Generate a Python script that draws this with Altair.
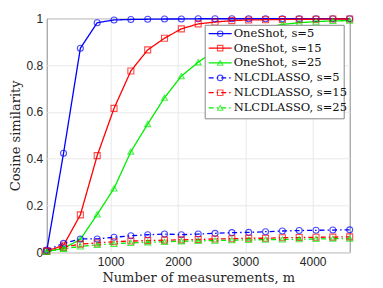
import altair as alt
import pandas as pd

m_values = [50, 300, 550, 800, 1050, 1300, 1550, 1800, 2050, 2300, 2550, 2800,
            3050, 3300, 3550, 3800, 4050, 4300, 4550]

oneshot_s5 = [0.005, 0.423, 0.872, 0.981, 0.993, 0.995, 0.996, 0.997, 0.997, 0.998, 0.998,
              0.998, 0.998, 0.998, 0.998, 0.998, 0.998, 0.998, 0.998]
oneshot_s15 = [0.005, 0.03, 0.16, 0.413, 0.615, 0.775, 0.865, 0.915, 0.955, 0.976, 0.984,
               0.99, 0.993, 0.994, 0.995, 0.996, 0.996, 0.997, 0.997]
oneshot_s25 = [0.003, 0.017, 0.055, 0.162, 0.273, 0.43, 0.548, 0.661, 0.753, 0.812, 0.862,
               0.905, 0.935, 0.958, 0.974, 0.981, 0.986, 0.989, 0.99]
nlcd_s5 = [0.01, 0.038, 0.057, 0.057, 0.064, 0.071, 0.075, 0.078, 0.075, 0.078, 0.081,
           0.084, 0.085, 0.088, 0.091, 0.093, 0.094, 0.095, 0.096]
nlcd_s15 = [0.005, 0.022, 0.035, 0.04, 0.045, 0.048, 0.05, 0.052, 0.053, 0.055, 0.057,
            0.058, 0.06, 0.06, 0.062, 0.063, 0.064, 0.065, 0.066]
nlcd_s25 = [0.003, 0.015, 0.025, 0.032, 0.036, 0.04, 0.043, 0.045, 0.047, 0.049, 0.05,
            0.052, 0.053, 0.054, 0.055, 0.056, 0.057, 0.058, 0.058]

series_names = ["OneShot, s=5", "OneShot, s=15", "OneShot, s=25",
                "NLCDLASSO, s=5", "NLCDLASSO, s=15", "NLCDLASSO, s=25"]
series_values = [oneshot_s5, oneshot_s15, oneshot_s25, nlcd_s5, nlcd_s15, nlcd_s25]
colors = ["#0000ff", "#ff0000", "#00ee00", "#0000ff", "#ff0000", "#00ee00"]
shapes = ["circle", "square", "triangle-up", "circle", "square", "triangle-up"]
dashes = [[1, 0], [1, 0], [1, 0], [5, 3, 1.5, 3], [5, 3, 1.5, 3], [5, 3, 1.5, 3]]

rows = []
for name, vals in zip(series_names, series_values):
    for m, v in zip(m_values, vals):
        rows.append({"m": m, "sim": v, "series": name})
df = pd.DataFrame(rows)

W, H = 303, 234
serif = "DejaVu Serif"
sans = "Liberation Sans"

x_enc = alt.X("m:Q", scale=alt.Scale(domain=[50, 4550], nice=False, zero=False),
              axis=alt.Axis(values=[1000, 2000, 3000, 4000], format="d",
                            title="Number of measurements, m"))
y_enc = alt.Y("sim:Q", scale=alt.Scale(domain=[0, 1], nice=False),
              axis=alt.Axis(values=[0, 0.2, 0.4, 0.6, 0.8, 1], format="~g",
                            title="Cosine similarity"))
color_enc = alt.Color("series:N", scale=alt.Scale(domain=series_names, range=colors), legend=None)

lines = alt.Chart(df).mark_line(strokeWidth=1.3).encode(
    x=x_enc, y=y_enc, color=color_enc,
    strokeDash=alt.StrokeDash("series:N", scale=alt.Scale(domain=series_names, range=dashes), legend=None),
)
points = alt.Chart(df).mark_point(filled=False, size=36, strokeWidth=1.1).encode(
    x=x_enc, y=y_enc, color=color_enc,
    shape=alt.Shape("series:N", scale=alt.Scale(domain=series_names, range=shapes), legend=None),
)

layers = [lines, points]

# legend box (pixel positions in plot area)
box = alt.Chart(pd.DataFrame({"a": [0]})).mark_rect(fill="white", stroke="#888888", strokeWidth=1).encode(
    x=alt.value(158.5), x2=alt.value(297.5), y=alt.value(7), y2=alt.value(100.5))
layers.append(box)

row_y = [15.4, 29.8, 44.6, 59.6, 74.4, 89.6]
for i, name in enumerate(series_names):
    d = pd.DataFrame({"series": [name]})
    ln = alt.Chart(d).mark_rule(color=colors[i], strokeWidth=1.3, strokeDash=dashes[i]).encode(
        x=alt.value(162), x2=alt.value(185), y=alt.value(row_y[i]))
    pt = alt.Chart(d).mark_point(filled=False, size=30, strokeWidth=1.1, color=colors[i],
                                 shape=shapes[i]).encode(
        x=alt.value(173.5), y=alt.value(row_y[i]))
    tx = alt.Chart(d).mark_text(align="left", baseline="middle", font=serif, fontSize=11.5,
                                color="#111111").encode(
        x=alt.value(187), y=alt.value(row_y[i] + 0.5), text="series:N")
    layers += [ln, pt, tx]

chart = alt.layer(*layers).properties(
    width=W, height=H,
    autosize=alt.AutoSizeParams(type="none"),
    padding={"left": 38.7, "top": 10.3, "right": 20, "bottom": 36},
).configure_view(stroke="#888888", strokeWidth=1).configure_axis(
    grid=True, gridColor="#e8e8e8", gridWidth=1, domain=False, ticks=False,
    labelFont=sans, labelFontSize=12, labelColor="#262626", labelPadding=4,
    titleFont=serif, titleFontSize=13, titleFontWeight="normal", titleColor="#262626",
).configure_axisX(titlePadding=4).configure_axisY(titlePadding=4)

chart.save("out.html", embed_options={"renderer": "svg", "actions": False})
